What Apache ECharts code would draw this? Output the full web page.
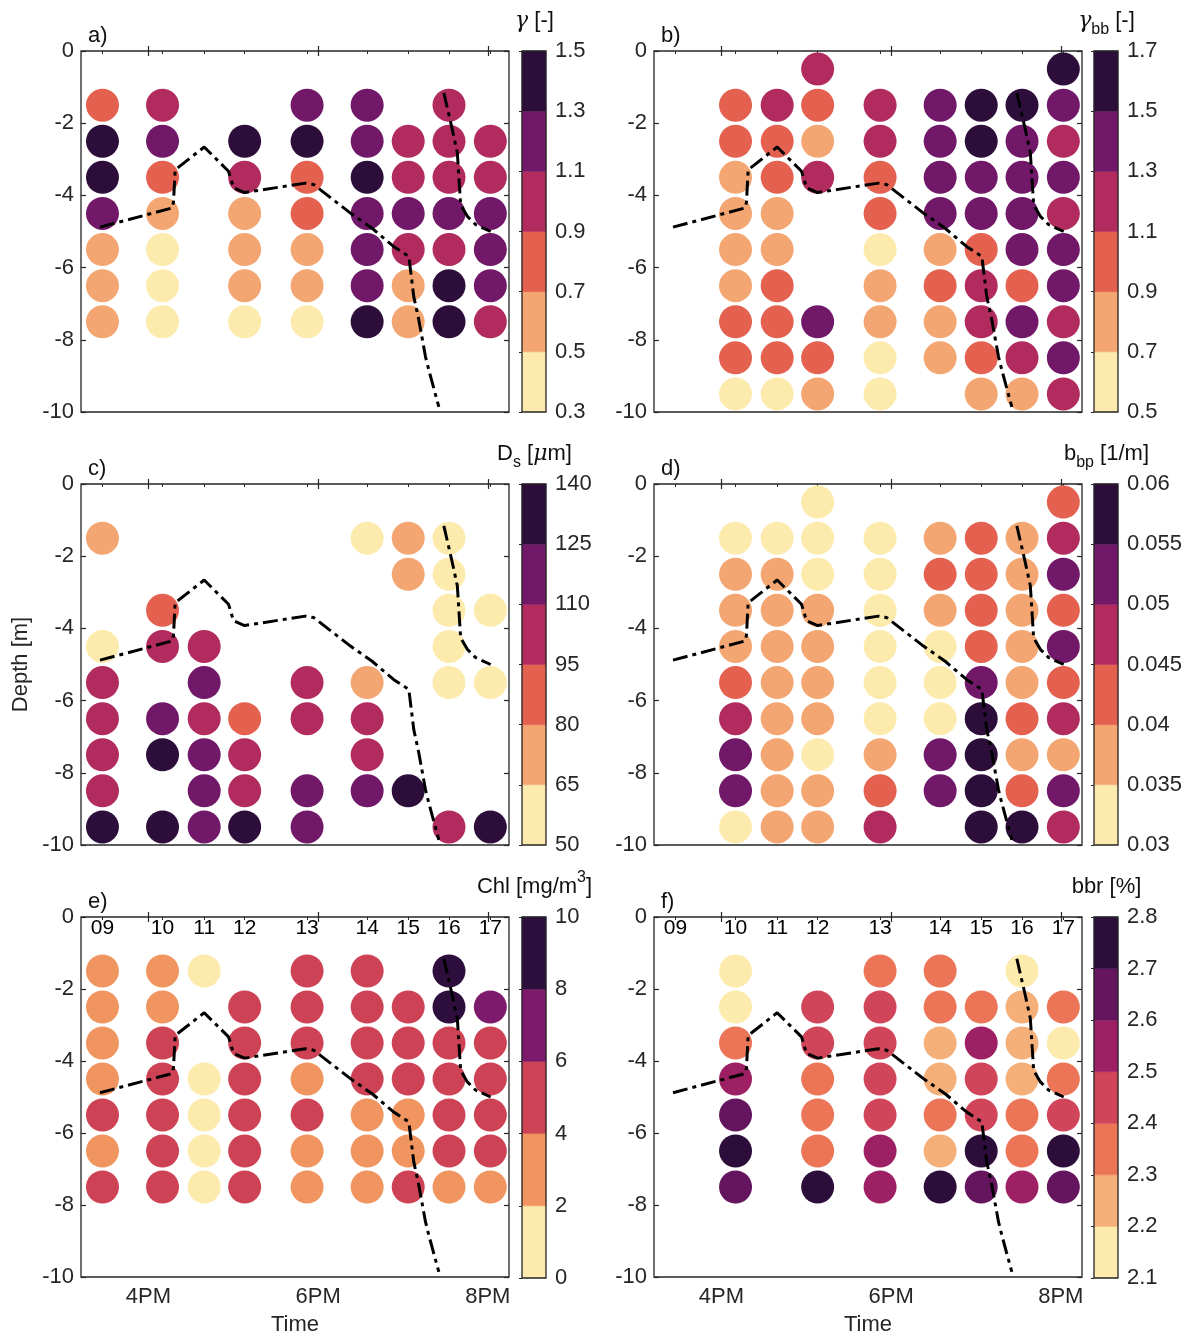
<!DOCTYPE html>
<html><head><meta charset="utf-8">
<script src="https://cdn.jsdelivr.net/npm/echarts/dist/echarts.min.js"></script>
<style>html,body{margin:0;padding:0;background:#fff}#chart{width:1202px;height:1337px}</style>
</head><body><div id="chart"></div>
<script>
// ---------- shared data ----------
const stationNames = ['09','10','11','12','13','14','15','16','17'];
const stationTimes = [15.458,16.166,16.657,17.134,17.870,18.578,19.062,19.543,20.030];
const depthLevels = [-0.5,-1.5,-2.5,-3.5,-4.5,-5.5,-6.5,-7.5,-8.5,-9.5];
const timeTickValues = [16,18,20];
const timeTickLabels = ['4PM','6PM','8PM'];
const timeMin = 15.205, timeMax = 20.25;

// mixed-layer depth line (two pieces)
const mldTimeA = [15.429,16.276,16.295,16.315,16.657,16.944,17.003,17.133,17.850,17.948,18.381,18.637,18.892,19.069,19.128,19.187,19.266,19.305,19.423];
const mldDepthA = [-4.88,-4.35,-4.19,-3.29,-2.66,-3.33,-3.79,-3.92,-3.66,-3.70,-4.49,-4.91,-5.42,-5.69,-6.81,-7.45,-8.47,-8.84,-9.86];
const mldTimeB = [19.482,19.582,19.641,19.680,19.759,19.857,20.034];
const mldDepthB = [-1.16,-2.18,-2.82,-4.26,-4.58,-4.81,-5.00];

// colour palettes (light -> dark)
const palette5 = ['#FDEBAD','#F0955F','#CE4256','#7E1A6B','#2E0E3C'];
const palette6 = ['#FDEBAD','#F4A672','#E46150','#B22B5E','#711968','#2D0E3B'];
const palette7 = ['#FDEBAD','#F5B07A','#EB7556','#D0455A','#9E2064','#64155E','#2D0E3B'];

// a) gamma
const gammaStations = ['09','10','12','13','14','15','16','17'];
const gammaValues = [
  [null,0.81,1.38,1.36,1.19,0.62,0.60,0.58,null,null],
  [null,0.99,1.17,0.79,0.61,0.43,0.41,0.40,null,null],
  [null,null,1.37,1.02,0.63,0.59,0.60,0.44,null,null],
  [null,1.21,1.39,0.82,0.78,0.62,0.61,0.42,null,null],
  [null,1.18,1.22,1.36,1.20,1.19,1.21,1.40,null,null],
  [null,null,1.01,0.98,1.16,1.03,0.64,0.60,null,null],
  [null,1.04,1.00,1.02,1.18,0.99,1.37,1.41,null,null],
  [null,null,1.03,0.97,1.19,1.22,1.17,0.96,null,null]
];
const gammaEdges = [0.3,0.5,0.7,0.9,1.1,1.3,1.5];
const gammaTicks = ['0.3','0.5','0.7','0.9','1.1','1.3','1.5'];

// b) gamma_bb
const gammaBBStations = ['10','11','12','13','14','15','16','17'];
const gammaBBValues = [
  [null,1.00,0.98,0.82,0.80,0.79,0.81,0.97,0.99,0.62],
  [null,1.18,1.01,0.96,0.83,0.80,0.99,1.02,0.98,0.60],
  [1.20,0.97,0.78,1.22,null,null,null,1.41,1.00,0.81],
  [null,1.19,1.21,0.99,1.01,0.63,0.82,0.80,0.61,0.62],
  [null,1.40,1.38,1.42,1.39,0.81,1.02,0.79,0.83,null],
  [null,1.58,1.61,1.41,1.37,0.99,1.19,1.22,1.01,0.80],
  [null,1.56,1.39,1.42,1.40,1.38,1.00,1.41,1.21,0.82],
  [1.59,1.40,1.20,1.39,1.18,1.41,1.43,1.19,1.38,1.21]
];
const gammaBBEdges = [0.5,0.7,0.9,1.1,1.3,1.5,1.7];
const gammaBBTicks = ['0.5','0.7','0.9','1.1','1.3','1.5','1.7'];

// c) Ds
const dsStations = ['09','10','11','12','13','14','15','16','17'];
const dsValues = [
  [null,72,null,null,58,102,101,103,100,133],
  [null,null,null,88,104,null,118,131,null,134],
  [null,null,null,null,99,117,103,116,119,121],
  [null,null,null,null,null,null,87,102,104,132],
  [null,null,null,null,null,101,98,null,118,116],
  [null,57,null,null,null,73,100,102,117,null],
  [null,71,74,null,null,null,null,null,130,null],
  [null,56,58,55,57,59,null,null,null,101],
  [null,null,null,57,null,58,null,null,null,135]
];
const dsEdges = [50,65,80,95,110,125,140];
const dsTicks = ['50','65','80','95','110','125','140'];

// d) b_bp
const bbpStations = ['10','11','12','13','14','15','16','17'];
const bbpValues = [
  [null,0.0325,0.0372,0.0378,0.0369,0.0421,0.0472,0.0523,0.0518,0.0331],
  [null,0.0328,0.0374,0.0371,0.0376,0.0373,0.0377,0.0372,0.0370,0.0374],
  [0.0322,0.0326,0.0333,0.0368,0.0373,0.0371,0.0378,0.0334,0.0376,0.0372],
  [null,0.0318,0.0321,0.0327,0.0324,0.0330,0.0329,0.0375,0.0424,0.0468],
  [null,0.0377,0.0419,0.0374,0.0336,0.0331,0.0338,0.0521,0.0516,null],
  [null,0.0423,0.0427,0.0425,0.0422,0.0524,0.0571,0.0576,0.0580,0.0574],
  [null,0.0378,0.0373,0.0376,0.0379,0.0374,0.0426,0.0377,0.0428,0.0573],
  [0.0428,0.0471,0.0519,0.0424,0.0522,0.0427,0.0469,0.0379,0.0521,0.0473]
];
const bbpEdges = [0.03,0.035,0.04,0.045,0.05,0.055,0.06];
const bbpTicks = ['0.03','0.035','0.04','0.045','0.05','0.055','0.06'];

// e) Chl
const chlStations = ['09','10','11','12','13','14','15','16','17'];
const chlValues = [
  [null,3.1,3.2,3.0,3.3,4.8,3.4,4.9,null,null],
  [null,3.2,3.3,4.7,4.9,5.0,4.8,5.1,null,null],
  [null,1.1,null,null,1.3,1.2,1.4,1.3,null,null],
  [null,null,4.9,5.0,4.8,5.1,4.9,5.0,null,null],
  [null,4.8,4.9,5.2,3.3,4.9,3.4,3.2,null,null],
  [null,4.7,4.9,5.0,4.8,3.2,3.3,3.1,null,null],
  [null,null,4.9,5.1,4.8,3.4,3.3,4.8,null,null],
  [null,8.9,9.1,5.0,4.9,5.1,4.8,3.3,null,null],
  [null,null,7.1,4.9,5.0,4.8,5.1,3.2,null,null]
];
const chlEdges = [0,2,4,6,8,10];
const chlTicks = ['0','2','4','6','8','10'];

// f) bbr
const bbrStations = ['10','12','13','14','15','16','17'];
const bbrValues = [
  [null,2.15,2.16,2.35,2.55,2.64,2.75,2.65,null,null],
  [null,null,2.45,2.46,2.34,2.36,2.35,2.74,null,null],
  [null,2.35,2.44,2.45,2.46,2.44,2.55,2.56,null,null],
  [null,2.34,2.36,2.26,2.25,2.35,2.24,2.76,null,null],
  [null,null,2.35,2.54,2.45,2.44,2.75,2.66,null,null],
  [null,2.14,2.25,2.26,2.24,2.35,2.36,2.55,null,null],
  [null,null,2.34,2.15,2.36,2.45,2.74,2.65,null,null]
];
const bbrEdges = [2.1,2.2,2.3,2.4,2.5,2.6,2.7,2.8];
const bbrTicks = ['2.1','2.2','2.3','2.4','2.5','2.6','2.7','2.8'];

// ---------- build ----------
const FONT = '"Liberation Sans", Arial, Helvetica, sans-serif';
const TXT = '#262626';
const AX = '#262626';

const panels = [
  {label:'a)', title:'{it|γ} [-]', st:gammaStations, vals:gammaValues, edges:gammaEdges, ticks:gammaTicks, colors:palette6},
  {label:'b)', title:'{it|γ}{sub|bb} [-]', st:gammaBBStations, vals:gammaBBValues, edges:gammaBBEdges, ticks:gammaBBTicks, colors:palette6},
  {label:'c)', title:'D{sub|s} [{it|μ}m]', st:dsStations, vals:dsValues, edges:dsEdges, ticks:dsTicks, colors:palette6},
  {label:'d)', title:'b{sub|bp} [1/m]', st:bbpStations, vals:bbpValues, edges:bbpEdges, ticks:bbpTicks, colors:palette6},
  {label:'e)', title:'Chl [mg/m{sup|3}]', st:chlStations, vals:chlValues, edges:chlEdges, ticks:chlTicks, colors:palette5},
  {label:'f)', title:'bbr [%]', st:bbrStations, vals:bbrValues, edges:bbrEdges, ticks:bbrTicks, colors:palette7}
];

function colorFor(v, edges, colors) {
  for (let i = 0; i < colors.length; i++) {
    if (v < edges[i+1] || i === colors.length - 1) return colors[i];
  }
  return colors[colors.length-1];
}
function tickLabel(v, edges, ticks) {
  for (let i = 0; i < edges.length; i++) if (Math.abs(edges[i]-v) < 1e-9) return ticks[i];
  return '';
}

const labelStyle = {color: TXT, fontSize: 22, fontFamily: FONT};
const option = {animation:false, backgroundColor:'#fff', grid:[], xAxis:[], yAxis:[], series:[], graphic:[]};

panels.forEach((P, p) => {
  const col = p % 2, row = Math.floor(p / 2);
  const left = col ? 654 : 81;
  const top = 51 + row * 433;
  const cbLeft = col ? 1094 : 522;
  const bottomRow = row === 2;
  option.grid.push({left:left, top:top, width:428, height:361, show:true, borderColor:AX, borderWidth:1.3, backgroundColor:'rgba(0,0,0,0)'});
  option.grid.push({left:cbLeft, top:top, width:24, height:361, show:false});
  const g = 2*p, xb = option.xAxis.length, yb = option.yAxis.length;

  option.xAxis.push({gridIndex:g, type:'value', min:timeMin, max:timeMax, position:'bottom',
    axisLine:{show:false}, splitLine:{show:false},
    axisTick:{show:true, inside:true, length:5, customValues:timeTickValues, lineStyle:{color:AX, width:1.2}},
    axisLabel:{show:bottomRow, customValues:timeTickValues, margin:9,
      formatter:v => tickLabel(v, timeTickValues, timeTickLabels), ...labelStyle},
    name: bottomRow ? 'Time' : '', nameLocation:'middle', nameGap:37, nameTextStyle:{...labelStyle}});
  option.xAxis.push({gridIndex:g, type:'value', min:timeMin, max:timeMax, position:'top',
    axisLine:{show:false}, splitLine:{show:false},
    axisTick:{show:true, inside:true, length:5, customValues:timeTickValues, lineStyle:{color:AX, width:1.2}},
    axisLabel:{show:false}});
  option.xAxis.push({gridIndex:g, type:'value', min:timeMin, max:timeMax, position:'top',
    axisLine:{show:false}, splitLine:{show:false},
    axisTick:{show:true, inside:true, length:3, customValues:stationTimes, lineStyle:{color:AX, width:1}},
    axisLabel:{show:false}});
  option.xAxis.push({gridIndex:g+1, type:'value', min:0, max:1, show:false});

  option.yAxis.push({gridIndex:g, type:'value', min:-10, max:0, interval:2, position:'left',
    axisLine:{show:false}, splitLine:{show:false},
    axisTick:{show:true, inside:true, length:5, lineStyle:{color:AX, width:1.2}},
    axisLabel:{margin:7, showMinLabel:true, showMaxLabel:true, ...labelStyle},
    name: p === 2 ? 'Depth [m]' : '', nameLocation:'middle', nameGap:49, nameTextStyle:{...labelStyle}});
  option.yAxis.push({gridIndex:g, type:'value', min:-10, max:0, interval:2, position:'right',
    axisLine:{show:false}, splitLine:{show:false},
    axisTick:{show:true, inside:true, length:5, lineStyle:{color:AX, width:1.2}},
    axisLabel:{show:false}});
  const eMin = P.edges[0], eMax = P.edges[P.edges.length-1];
  option.yAxis.push({gridIndex:g+1, type:'value', min:eMin, max:eMax, position:'right',
    axisLine:{show:false}, splitLine:{show:false},
    axisTick:{show:true, inside:true, length:3, customValues:P.edges, lineStyle:{color:AX, width:1}},
    axisLabel:{customValues:P.edges, margin:9, showMinLabel:true, showMaxLabel:true,
      formatter:v => tickLabel(v, P.edges, P.ticks), ...labelStyle}});

  // dots
  const pts = [];
  P.st.forEach((name, si) => {
    const t = stationTimes[stationNames.indexOf(name)];
    P.vals[si].forEach((v, di) => { if (v !== null) pts.push([t, depthLevels[di], v]); });
  });
  option.series.push({type:'scatter', xAxisIndex:xb, yAxisIndex:yb, data:pts, symbol:'circle', symbolSize:33, silent:true,
    itemStyle:{opacity:1, color:pr => colorFor(pr.value[2], P.edges, P.colors)}, z:2});
  // MLD line
  [[mldTimeA, mldDepthA],[mldTimeB, mldDepthB]].forEach(([tt, dd]) => {
    option.series.push({type:'line', xAxisIndex:xb, yAxisIndex:yb, data:tt.map((t,i)=>[t, dd[i]]),
      symbol:'none', silent:true, z:5,
      lineStyle:{color:'#000', width:3, type:[15,5,4,5], cap:'butt'}});
  });
  // station labels
  if (bottomRow) {
    option.series.push({type:'scatter', xAxisIndex:xb, yAxisIndex:yb, silent:true, z:6,
      data:stationNames.map((n,i)=>[stationTimes[i], -0.3, n]), symbolSize:0,
      itemStyle:{color:'#000'},
      label:{show:true, position:'inside', formatter:pr => pr.value[2], color:'#000', opacity:1,
        textBorderWidth:0, fontSize:21, fontFamily:FONT}});
  }
  // colorbar
  const nb = P.colors.length;
  option.series.push({type:'custom', xAxisIndex:xb+3, yAxisIndex:yb+2, silent:true, clip:false,
    data:P.colors.map((c,i)=>[P.edges[i], P.edges[i+1]]),
    renderItem:(params, api) => {
      const lo = api.value(0), hi = api.value(1);
      const a = api.coord([0, hi]), b = api.coord([1, lo]);
      const c = P.colors[params.dataIndex];
      const children = [{type:'rect', shape:{x:a[0], y:a[1], width:b[0]-a[0], height:b[1]-a[1]}, style:{fill:c, stroke:c, lineWidth:0.5}}];
      if (params.dataIndex === nb - 1) {
        const t0 = api.coord([0, eMax]), t1 = api.coord([1, eMin]);
        children.push({type:'rect', shape:{x:t0[0], y:t0[1], width:t1[0]-t0[0], height:t1[1]-t0[1]}, style:{fill:'none', stroke:AX, lineWidth:1.3}});
      }
      return {type:'group', children};
    }});

  // panel label and colour-bar title
  option.graphic.push({type:'text', x:left+7, y:top-15, silent:true,
    style:{text:P.label, fill:'#111', fontSize:22, fontFamily:FONT, align:'left', verticalAlign:'middle', textAlign:'left', textVerticalAlign:'middle'}});
  option.graphic.push({type:'text', x:cbLeft+12.5, y:top-30, silent:true,
    style:{text:P.title, fill:'#111', fontSize:22, fontFamily:FONT, lineHeight:34,
      align:'center', verticalAlign:'middle', textAlign:'center', textVerticalAlign:'middle',
      rich:{
        it:{fontStyle:'italic', fontSize:22, fontFamily:'"DejaVu Serif", serif', fill:'#111', lineHeight:34},
        sub:{fontSize:16, fontFamily:FONT, fill:'#111', lineHeight:16, verticalAlign:'bottom'},
        sup:{fontSize:16, fontFamily:FONT, fill:'#111', lineHeight:16, verticalAlign:'top'}
      }}});
});

const chart = echarts.init(document.getElementById('chart'), null, {renderer:'canvas'});
chart.setOption(option);
</script></body></html>
